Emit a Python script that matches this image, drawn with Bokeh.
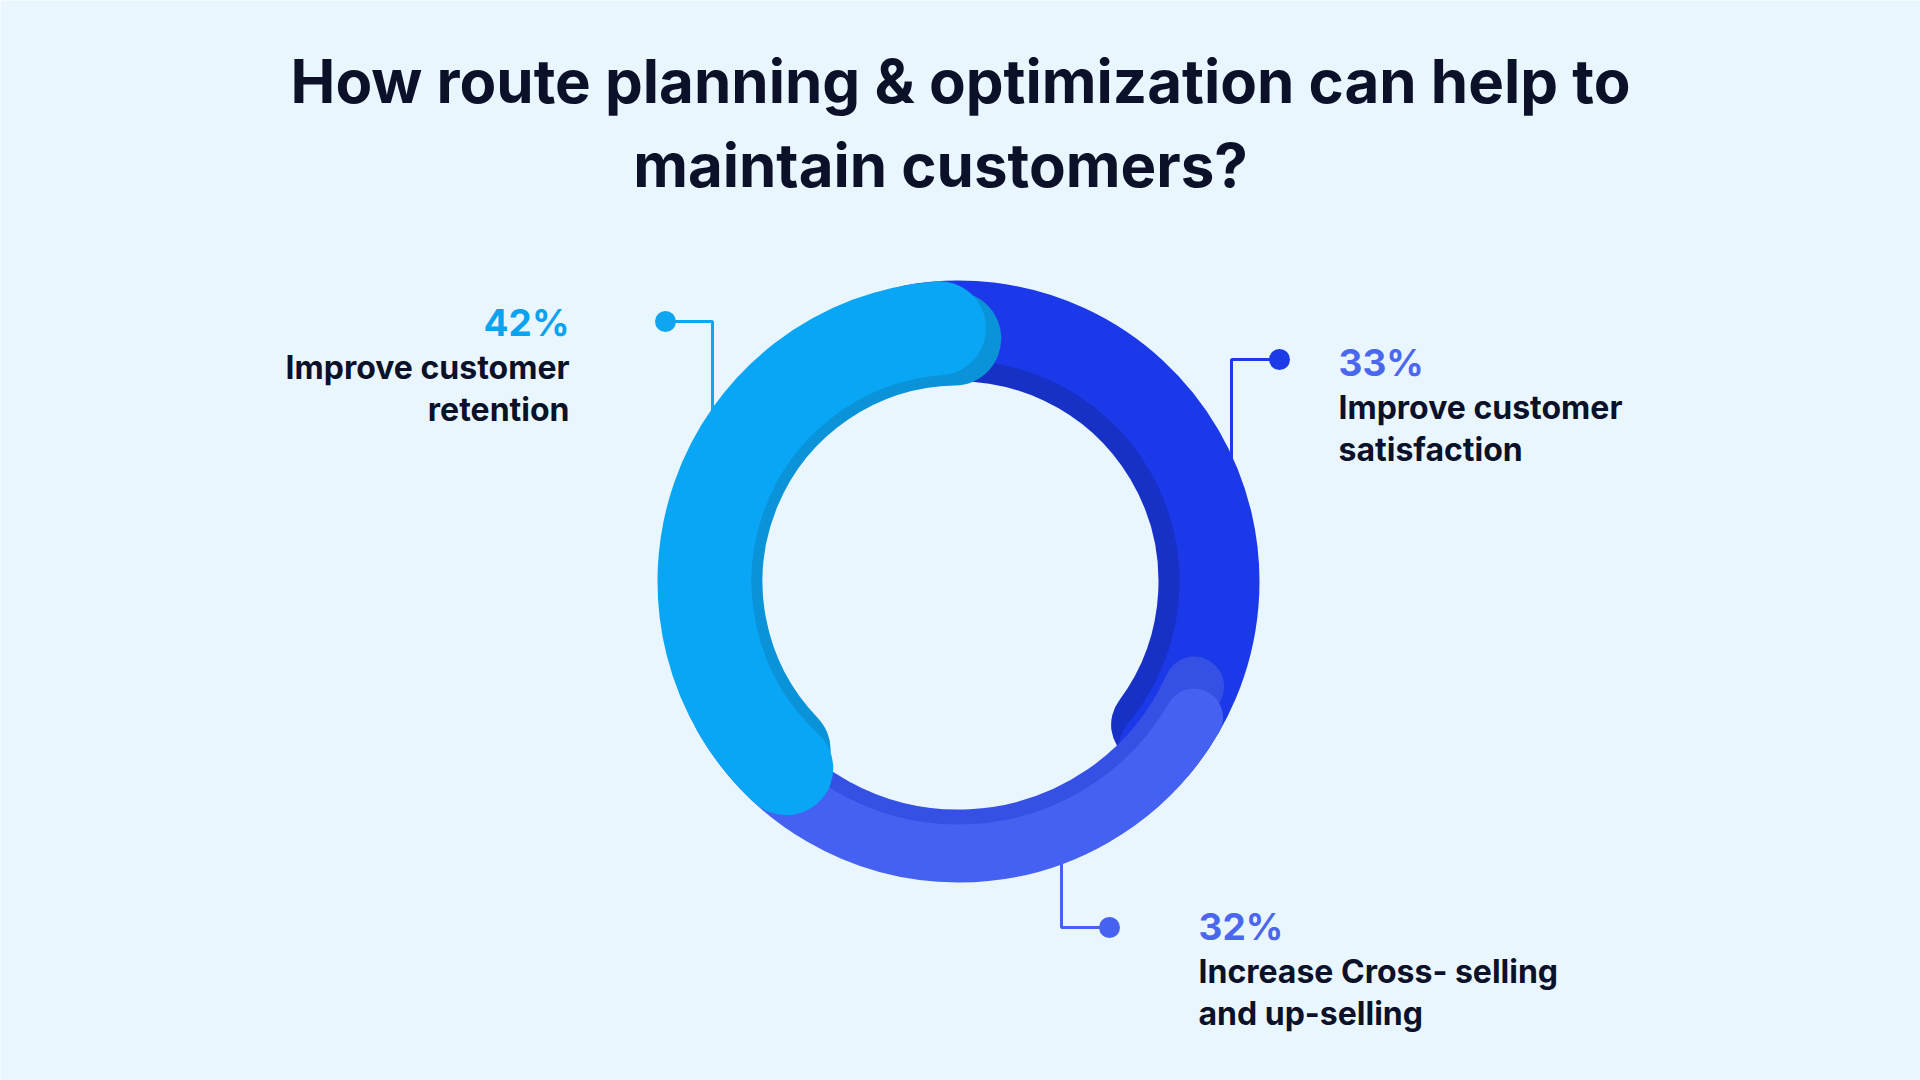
import math
from bokeh.plotting import figure
from bokeh.models import Range1d
from bokeh.core.properties import value
from bokeh.embed import file_html
from bokeh.resources import INLINE

# ---------------- data ----------------
categories = ["Improve customer retention",
              "Improve customer satisfaction",
              "Increase Cross- selling and up-selling"]
percents = [42, 33, 32]
pct_labels = ["42%", "33%", "32%"]
label_lines = [["Improve customer", "retention"],
               ["Improve customer", "satisfaction"],
               ["Increase Cross- selling", "and up-selling"]]
title_lines = ["How route planning & optimization can help to",
               "maintain customers?"]

# ---------------- style ----------------
W, H = 1920, 1080
BG = "#EAF6FE"
INK = "#0B1128"
FONT = "Inter"
main_colors = ["#09A6F6", "#1B39E8", "#4561F2"]
shadow_colors = ["#0A93D8", "#1730C6", "#3550E4"]
pct_colors = ["#0AA3F0", "#4A67EE", "#4A67EE"]
line_colors = ["#10A5F0", "#1C3BE6", "#4562F0"]
main_r = [254, 261, 272]
main_w = [94, 80, 58]
shadow_r = [243, 240, 258]
shadow_w = [94, 80, 60]
# angular trims (deg) applied to each segment's data range: (start, end)
main_trim = [(-4.4, 4.0), (10.0, -19.4), (-9.4, -22.0)]
shadow_trim = [(-7.7, 0.6), (8.0, -16.0), (-3.4, -22.0)]
rotation = 90.4
cx, cy = 958, 499

# leader layout: dot, corner x, end y of the vertical run (data coords, y up)
leader_dot = [(665, 759), (1279, 721), (1109, 153)]
leader_corner_x = [712, 1231, 1061]
leader_end_y = [640, 600, 240]
# label layout: anchor x, baseline y of percent, alignment
label_x = [569, 1338, 1198]
label_y = [743, 703, 139]
label_align = ["right", "left", "left"]
title_x = [960, 940]
PCT_SIZE, LBL_SIZE, TTL_SIZE = 37, 32, 60
BASE_FIX = 0.4  # baseline correction as fraction of font size

p = figure(width=W, height=H, output_backend="svg", toolbar_location=None,
           x_range=Range1d(0, W), y_range=Range1d(0, H), min_border=0)
p.axis.visible = False
p.grid.visible = False
p.outline_line_color = None
p.background_fill_color = BG
p.border_fill_color = BG

# segment data ranges (clockwise start -> end)
total = sum(percents)
spans = [v / total * 360 for v in percents]
ranges = [
    (rotation + spans[0], rotation),                      # retention (left)
    (rotation, rotation - spans[1]),                      # satisfaction (right)
    (rotation - spans[1], rotation - spans[1] - spans[2]) # cross-selling (bottom)
]

# leader lines (drawn under the ring)
for i in range(3):
    dx, dy = leader_dot[i]
    xc = leader_corner_x[i]
    p.line([dx, xc, xc], [dy, dy, leader_end_y[i]], line_color=line_colors[i],
           line_width=3)
    p.scatter([dx], [dy], size=21, marker="circle", fill_color=line_colors[i],
              line_color=None)

# ring: satisfaction first, cross-selling second, retention on top
for i in [1, 2, 0]:
    s, e = ranges[i]
    p.arc(x=[cx], y=[cy], radius=shadow_r[i],
          start_angle=math.radians(s + shadow_trim[i][0]),
          end_angle=math.radians(e + shadow_trim[i][1]),
          direction="clock", line_width=shadow_w[i], line_cap="round",
          line_color=shadow_colors[i])
    p.arc(x=[cx], y=[cy], radius=main_r[i],
          start_angle=math.radians(s + main_trim[i][0]),
          end_angle=math.radians(e + main_trim[i][1]),
          direction="clock", line_width=main_w[i], line_cap="round",
          line_color=main_colors[i])

# labels
for i in range(3):
    p.text(x=[label_x[i]], y=[label_y[i] + BASE_FIX * PCT_SIZE], text=[pct_labels[i]],
           text_font=value(FONT), text_font_style="bold",
           text_font_size=f"{PCT_SIZE}px",
           text_color=pct_colors[i], text_align=label_align[i],
           text_baseline="alphabetic")
    for j, ln in enumerate(label_lines[i]):
        p.text(x=[label_x[i]], y=[label_y[i] - 43 - 42 * j + BASE_FIX * LBL_SIZE],
               text=[ln], text_font=value(FONT), text_font_style="bold",
               text_font_size=f"{LBL_SIZE}px", text_color=INK,
               text_align=label_align[i], text_baseline="alphabetic")

# title
for j, ln in enumerate(title_lines):
    p.text(x=[title_x[j]], y=[976 - 84 * j + BASE_FIX * TTL_SIZE], text=[ln],
           text_font=value(FONT), text_font_style="bold",
           text_font_size=f"{TTL_SIZE}px", text_color=INK,
           text_align="center", text_baseline="alphabetic")

open("out.html", "w").write(file_html(p, INLINE))
